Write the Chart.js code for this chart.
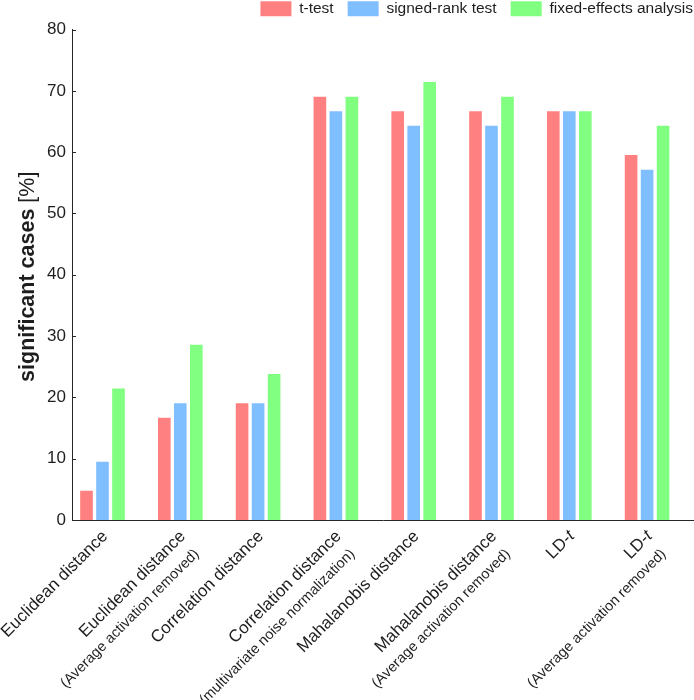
<!DOCTYPE html>
<html>
<head>
<meta charset="utf-8">
<script src="https://cdn.jsdelivr.net/npm/chart.js@4.4.1/dist/chart.umd.min.js"></script>
<style>
  html, body { margin: 0; padding: 0; background: #fff; }
</style>
</head>
<body>
<canvas id="chart" width="694" height="700"></canvas>
<script>
// categories (first line + smaller second line)
const methods = ['Euclidean distance', 'Euclidean distance', 'Correlation distance', 'Correlation distance',
                 'Mahalanobis distance', 'Mahalanobis distance', 'LD-t', 'LD-t'];
const methodNotes = ['', '(Average activation removed)', '', '(multivariate noise normalization)',
                     '', '(Average activation removed)', '', '(Average activation removed)'];
const seriesNames = ['t-test', 'signed-rank test', 'fixed-effects analysis'];

// % of significant cases
const tTest        = [4.76, 16.67, 19.05, 69.05, 66.67, 66.67, 66.67, 59.52];
const signedRank   = [9.52, 19.05, 19.05, 66.67, 64.29, 64.29, 66.67, 57.14];
const fixedEffects = [21.43, 28.57, 23.81, 69.05, 71.43, 69.05, 66.67, 64.29];

const yTicks = [0, 10, 20, 30, 40, 50, 60, 70, 80];
const yTitleBold = 'significant cases ';
const yTitleRest = '[%]';

const colors = ['#ff8080', '#80bfff', '#80ff80'];
const textColor = '#1e1e1e';
const axisColor = '#262626';
const FONT = '"Liberation Sans", Arial, Helvetica, sans-serif';

const toPoints = arr => arr.map((v, i) => ({ x: i, y: v }));

// draws inward y ticks, rotated category labels and the y title
const decor = {
    id: 'decor',
    afterInit(chart) {
        const lg = chart.legend;
        const fit = lg.fit;
        lg.fit = function () { fit.call(this); this.height += 3; };
    },
    afterDraw(chart) {
        const ctx = chart.ctx;
        const xs = chart.scales.x, ys = chart.scales.y;
        const area = chart.chartArea;
        ctx.save();

        ctx.strokeStyle = axisColor;
        ctx.lineWidth = 1;
        ys.ticks.forEach(t => {
            const py = Math.round(ys.getPixelForValue(t.value)) + 0.5;
            ctx.beginPath();
            ctx.moveTo(area.left, py);
            ctx.lineTo(area.left + 4, py);
            ctx.stroke();
        });

        ctx.fillStyle = textColor;
        methods.forEach((name, i) => {
            const px = xs.getPixelForValue(i);
            ctx.save();
            ctx.translate(px + 6, area.bottom + 17);
            ctx.rotate(-Math.PI / 4);
            ctx.textBaseline = 'alphabetic';
            ctx.textAlign = 'left';
            let parts = [[name, 'normal']];
            if (name.endsWith('-t')) parts = [[name.slice(0, -1), 'normal'], ['t', 'italic']];
            let total = 0;
            parts.forEach(p => { ctx.font = p[1] + ' 17px ' + FONT; total += ctx.measureText(p[0]).width; });
            let cx = -total;
            parts.forEach(p => {
                ctx.font = p[1] + ' 17px ' + FONT;
                ctx.fillText(p[0], cx, 0);
                cx += ctx.measureText(p[0]).width;
            });
            if (methodNotes[i]) {
                ctx.font = '14.5px ' + FONT;
                ctx.textAlign = 'right';
                ctx.fillText(methodNotes[i], -3, 22);
            }
            ctx.restore();
        });

        // y title
        ctx.save();
        ctx.translate(28, (area.top + area.bottom) / 2 + 2);
        ctx.rotate(-Math.PI / 2);
        ctx.textBaseline = 'middle';
        ctx.textAlign = 'left';
        ctx.font = 'bold 21.5px ' + FONT;
        const w1 = ctx.measureText(yTitleBold).width;
        ctx.font = '21.5px ' + FONT;
        const w2 = ctx.measureText(yTitleRest).width;
        ctx.font = 'bold 21.5px ' + FONT;
        ctx.fillText(yTitleBold, -(w1 + w2) / 2, 0);
        ctx.font = '21.5px ' + FONT;
        ctx.fillText(yTitleRest, -(w1 + w2) / 2 + w1, 0);
        ctx.restore();

        ctx.restore();
    }
};

const ctx = document.getElementById('chart').getContext('2d');
const chart = new Chart(ctx, {
    type: 'bar',
    data: {
        datasets: [tTest, signedRank, fixedEffects].map((vals, k) => ({
            label: seriesNames[k],
            data: toPoints(vals),
            backgroundColor: colors[k],
            borderWidth: 0,
            categoryPercentage: 0.617,
            barPercentage: 0.79
        }))
    },
    options: {
        responsive: false,
        animation: false,
        layout: { padding: { top: -13, right: -13, left: 0, bottom: 0 } },
        plugins: {
            legend: {
                position: 'top',
                align: 'end',
                labels: {
                    boxWidth: 31,
                    boxHeight: 15,
                    padding: 14,
                    color: textColor,
                    font: { family: FONT, size: 15.5 }
                }
            },
            tooltip: { enabled: false }
        },
        scales: {
            x: {
                type: 'linear',
                offset: false,
                bounds: 'ticks',
                min: -0.392,
                max: 7.603,
                grid: { display: false, drawTicks: false, offset: false },
                border: { display: true, color: axisColor, width: 1 },
                ticks: { display: false },
                afterFit: s => { s.height = 180; }
            },
            y: {
                min: 0,
                max: 80,
                afterBuildTicks: s => { s.ticks = yTicks.map(v => ({ value: v })); },
                grid: { display: false, drawTicks: false },
                border: { display: true, color: axisColor, width: 1 },
                ticks: {
                    color: textColor,
                    padding: 6,
                    font: { family: FONT, size: 17 }
                },
                afterFit: s => { s.width = 72; }
            }
        }
    },
    plugins: [decor]
});
</script>
</body>
</html>
